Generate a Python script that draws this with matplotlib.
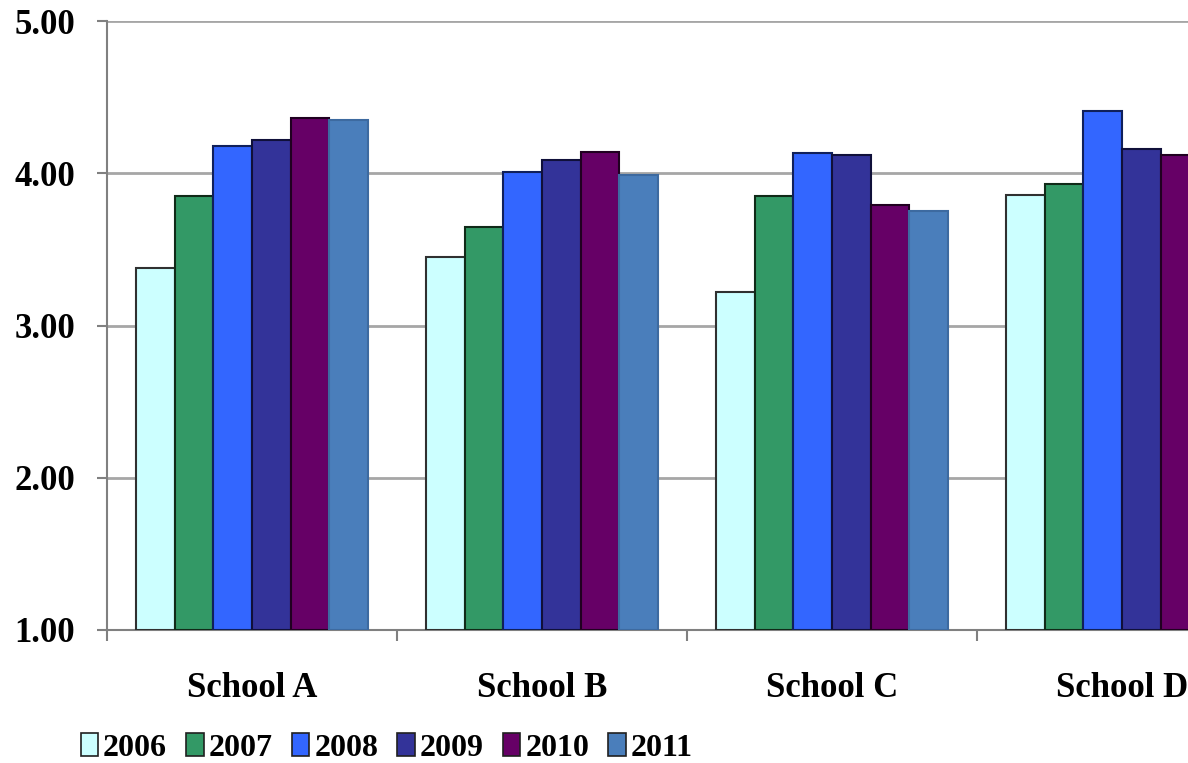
import matplotlib
matplotlib.use("Agg")
import matplotlib.pyplot as plt
import numpy as np
from matplotlib.patches import Patch

schools = ["School A", "School B", "School C", "School D"]
years = ["2006", "2007", "2008", "2009", "2010", "2011"]
v2006 = [3.38, 3.45, 3.22, 3.86]
v2007 = [3.85, 3.65, 3.85, 3.93]
v2008 = [4.18, 4.01, 4.13, 4.41]
v2009 = [4.22, 4.09, 4.12, 4.16]
v2010 = [4.36, 4.14, 3.79, 4.12]
v2011 = [4.35, 3.99, 3.75, 4.05]
series = [v2006, v2007, v2008, v2009, v2010, v2011]
colors = ["#CCFFFF", "#339966", "#3366FF", "#333399", "#660066", "#4A7EBB"]
edges = ["#303030", "#102a18", "#10205a", "#10103a", "#200020", "#3d6aa0"]
yticks = [1.0, 2.0, 3.0, 4.0, 5.0]

plt.rcParams['font.family'] = ['Liberation Serif', 'DejaVu Serif']
plt.rcParams['font.weight'] = 'bold'

fig = plt.figure(figsize=(11.88, 7.63), dpi=100)
ax = fig.add_axes([107/1188, 133/763, 1 - 107/1188, 609/763])

n = len(years)
bw = 0.8 / n
x = np.arange(len(schools))
for i, (vals, c, e) in enumerate(zip(series, colors, edges)):
    offs = -0.4 + bw * (i + 0.5)
    bottoms = np.full(len(vals), 1.0)
    ax.bar(x + offs, np.array(vals) - 1.0, bottom=bottoms, width=bw,
           color=c, edgecolor=e, linewidth=1.5, zorder=3)

ax.set_yticks(yticks)
ax.set_yticklabels([f"{t:.2f}" for t in yticks], fontsize=25, fontweight='bold')
ax.yaxis.grid(True, color="#a6a6a6", linewidth=2, zorder=0)
ax.set_axisbelow(True)

ax.set_xticks(np.arange(len(schools) + 1) - 0.5, minor=False)
ax.set_xticklabels([])
ax.set_xticks(x, minor=True)
ax.set_xticklabels(schools, minor=True, fontsize=25, fontweight='bold')
ax.tick_params(axis='x', which='minor', length=0, pad=30)
ax.tick_params(axis='x', which='major', length=8, width=1.5, color="#808080", direction='out')
ax.tick_params(axis='y', length=7, width=1.5, color="#808080", direction='out', pad=16)

ax.set_ylim(1.0, 5.0)
ax.set_xlim(-0.5, -0.5 + (1188 - 107) / 290)

for s in ['top', 'right']:
    ax.spines[s].set_visible(False)
for s in ['left', 'bottom']:
    ax.spines[s].set_color("#808080")
    ax.spines[s].set_linewidth(1.5)

handles = [Patch(facecolor=c, edgecolor="#202020", linewidth=1.2) for c in colors]
leg = fig.legend(handles, years, loc='center left', bbox_to_anchor=(52/1188, 15/763),
                 ncol=6, frameon=False, handlelength=0.55,
                 handleheight=0.75, handletextpad=0.15, columnspacing=0.6,
                 prop={'weight': 'bold', 'size': 23})

fig.savefig("out.png", dpi=100)
